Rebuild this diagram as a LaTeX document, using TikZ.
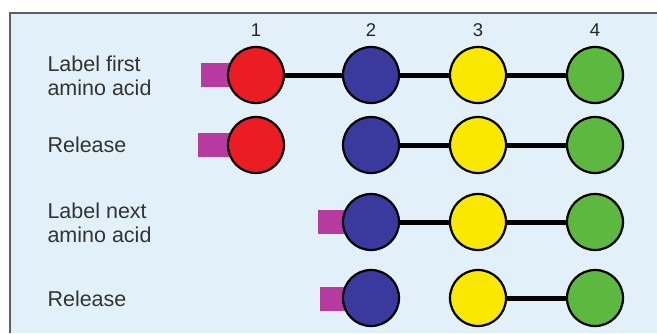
\documentclass[tikz,border=0pt]{standalone}
\usepackage{fontspec}
\setmainfont{Liberation Sans}
\usetikzlibrary{positioning}
\definecolor{acidred}{RGB}{236,28,36}
\definecolor{acidblue}{RGB}{58,58,158}
\definecolor{acidyellow}{RGB}{250,232,0}
\definecolor{acidgreen}{RGB}{92,184,62}
\definecolor{tagpurple}{RGB}{182,58,160}
\definecolor{panelblue}{RGB}{226,241,249}
\definecolor{framegray}{RGB}{96,96,96}
\tikzset{
  residue/.style={circle,draw=black,line width=2.2pt,minimum size=56pt,inner sep=0pt},
  bond/.style={black,line width=5pt},
  tagbox/.style={fill=tagpurple,minimum width=40pt,minimum height=24pt,inner sep=0pt},
  steplabel/.style={align=left,anchor=west,text=black!80,font=\fontsize{21.5}{24}\selectfont},
  colnum/.style={text=black!85,font=\fontsize{18.5}{20}\selectfont}
}

\begin{document}
\begin{tikzpicture}[x=1pt,y=-1pt]
\useasboundingbox (0,0) rectangle (657,333);
\fill[panelblue] (10,13) rectangle (657,333);
\draw[framegray,line width=1.5pt] (10,333)--(10,13)--(657,13);
% column numbers
\foreach \n/\x in {1/256,2/371,3/478,4/595}{
  \node[colnum] (num\n) at (\x,30) {\n};
}
% step labels
\node[steplabel] (labfirst) at (44,76) {Label first\\amino acid};
\node[steplabel] (relfirst) at (44,145) {Release};
\node[steplabel] (labnext) at (44,223) {Label next\\amino acid};
\node[steplabel] (relnext) at (44,299) {Release};
% tags
\node[tagbox] (taga) at (221,75) {};
\node[tagbox] (tagb) at (218,145) {};
\node[tagbox] (tagc) at (338,222) {};
\node[tagbox] (tagd) at (340,299) {};
% residues
\foreach \r/\y in {a/75,b/145}{
  \node[residue,fill=acidred] (\r1) at (256,\y) {};
}
\foreach \r/\y in {a/75,b/145,c/222,d/298}{
  \node[residue,fill=acidblue] (\r2) at (371,\y) {};
  \node[residue,fill=acidyellow] (\r3) at (478,\y) {};
  \node[residue,fill=acidgreen] (\r4) at (595,\y) {};
}
% bonds
\foreach \p/\q in {a1/a2,a2/a3,a3/a4,b2/b3,b3/b4,c2/c3,c3/c4,d3/d4}{
  \draw[bond] (\p)--(\q);
}
\end{tikzpicture}
\end{document}
